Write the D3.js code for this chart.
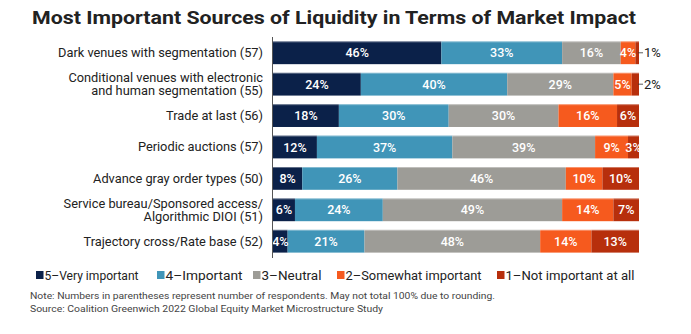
<!DOCTYPE html>
<html>
<head>
<meta charset="utf-8">
<script src="https://cdn.jsdelivr.net/npm/d3@7"></script>
<style>
  body { margin: 0; background: #fff; }
  svg { display: block; font-family: Roboto, "Liberation Sans", sans-serif; }
</style>
</head>
<body>
<div id="chart"></div>
<script>
// data
const categories = [
  ["Dark venues with segmentation (57)"],
  ["Conditional venues with electronic", "and human segmentation (55)"],
  ["Trade at last (56)"],
  ["Periodic auctions (57)"],
  ["Advance gray order types (50)"],
  ["Service bureau/Sponsored access/", "Algorithmic DIOI (51)"],
  ["Trajectory cross/Rate base (52)"]
];
const seriesNames = ["5\u2013Very important", "4\u2013Important", "3\u2013Neutral", "2\u2013Somewhat important", "1\u2013Not important at all"];
const veryImportant = [46, 24, 18, 12, 8, 6, 4];
const important = [33, 40, 30, 37, 26, 24, 21];
const neutral = [16, 29, 30, 39, 46, 49, 48];
const somewhat = [4, 5, 16, 9, 10, 14, 14];
const notImportant = [1, 2, 6, 3, 10, 7, 13];
const colors = ["#0b2149", "#4095b8", "#9d9c97", "#f65a1e", "#b72f0c"];

const W = 691, H = 334;
const margin = { top: 37, left: 273, right: 52, bottom: 77 };

const svg = d3.select("#chart").append("svg")
  .attr("width", W)
  .attr("height", H);

svg.append("text")
  .attr("x", 32)
  .attr("y", 23.5)
  .attr("font-size", 18)
  .attr("font-weight", "bold")
  .attr("fill", "#222")
  .attr("textLength", 604)
  .attr("lengthAdjust", "spacingAndGlyphs")
  .text("Most Important Sources of Liquidity in Terms of Market Impact");

const rows = categories.map((c, i) => ({
  idx: i,
  lines: c,
  values: [veryImportant[i], important[i], neutral[i], somewhat[i], notImportant[i]]
}));

const x = d3.scaleLinear()
  .domain([0, 100])
  .range([margin.left, W - margin.right]);

const y = d3.scaleBand()
  .domain(rows.map(d => d.idx))
  .range([margin.top, H - margin.bottom])
  .paddingInner(0.275)
  .paddingOuter(0.14);

// category labels
const lbl = svg.append("g").selectAll("text")
  .data(rows)
  .enter().append("text")
  .attr("text-anchor", "end")
  .attr("font-size", 12.8)
  .attr("fill", "#222")
  .attr("y", d => y(d.idx) + y.bandwidth() / 2);

lbl.selectAll("tspan")
  .data(d => d.lines.map((l, j) => ({ l, j, n: d.lines.length })))
  .enter().append("tspan")
  .attr("x", 263)
  .attr("dy", d => d.j === 0 ? (d.n === 1 ? "0.35em" : (-6.75 + 4.5) + "px") : "13.5px")
  .text(d => d.l);

// stacked segments
const segs = [];
rows.forEach(r => {
  let acc = 0;
  r.values.forEach((v, k) => {
    segs.push({ row: r.idx, k, v, x0: acc, x1: acc + v });
    acc += v;
  });
});

svg.append("g").selectAll("rect")
  .data(segs)
  .enter().append("rect")
  .attr("x", d => x(d.x0))
  .attr("y", d => y(d.row))
  .attr("width", d => x(d.x1) - x(d.x0))
  .attr("height", y.bandwidth())
  .attr("fill", d => colors[d.k]);

// top highlight line on each bar
svg.append("g").selectAll("line")
  .data(rows)
  .enter().append("line")
  .attr("x1", x(0))
  .attr("x2", x(100))
  .attr("y1", d => y(d.idx) + 0.5)
  .attr("y2", d => y(d.idx) + 0.5)
  .attr("stroke", "#fff")
  .attr("stroke-opacity", 0.35);

// value labels
const inside = segs.filter(d => d.v >= 3);
svg.append("g").selectAll("text")
  .data(inside)
  .enter().append("text")
  .attr("x", d => x((d.x0 + d.x1) / 2))
  .attr("y", d => y(d.row) + y.bandwidth() / 2)
  .attr("dy", "0.36em")
  .attr("text-anchor", "middle")
  .attr("font-size", 12.5)
  .attr("font-weight", 500)
  .attr("fill", "#fff")
  .text(d => d.v + "%");

const outside = segs.filter(d => d.v < 3);
const out = svg.append("g").selectAll("g")
  .data(outside)
  .enter().append("g");
out.append("line")
  .attr("x1", d => x(d.x1) - 1)
  .attr("x2", d => x(d.x1) + 4)
  .attr("y1", d => y(d.row) + y.bandwidth() / 2)
  .attr("y2", d => y(d.row) + y.bandwidth() / 2)
  .attr("stroke", "#333")
  .attr("stroke-width", 0.8);
out.append("text")
  .attr("x", d => x(d.x1) + 5)
  .attr("y", d => y(d.row) + y.bandwidth() / 2)
  .attr("dy", "0.36em")
  .attr("font-size", 13)
  .attr("fill", "#222")
  .text(d => d.v + "%");

// left axis line
svg.append("line")
  .attr("x1", x(0) - 0.5)
  .attr("x2", x(0) - 0.5)
  .attr("y1", margin.top)
  .attr("y2", H - margin.bottom + 1)
  .attr("stroke", "#555")
  .attr("stroke-width", 1);

// legend
const legX = [36, 157, 253, 337, 497];
const legW = [94, 77, 60, 136, 129];
const leg = svg.append("g").selectAll("g")
  .data(seriesNames)
  .enter().append("g")
  .attr("transform", (d, i) => `translate(${legX[i]},275)`);
leg.append("rect")
  .attr("x", 0)
  .attr("y", -4)
  .attr("width", 7.5)
  .attr("height", 8)
  .attr("fill", (d, i) => colors[i]);
leg.append("text")
  .attr("x", 8.5)
  .attr("dy", "0.36em")
  .attr("font-size", 12.5)
  .attr("fill", "#222")
  .attr("textLength", (d, i) => legW[i])
  .attr("lengthAdjust", "spacingAndGlyphs")
  .text(d => d);

// notes
const notes = [
  "Note: Numbers in parentheses represent number of respondents. May not total 100% due to rounding.",
  "Source: Coalition Greenwich 2022 Global Equity Market Microstructure Study"
];
const noteW = [465, 353];
svg.append("g").selectAll("text")
  .data(notes)
  .enter().append("text")
  .attr("x", 30)
  .attr("y", (d, i) => 298.5 + i * 13)
  .attr("font-size", 9.5)
  .attr("fill", "#444")
  .attr("textLength", (d, i) => noteW[i])
  .attr("lengthAdjust", "spacingAndGlyphs")
  .text(d => d);
</script>
</body>
</html>
